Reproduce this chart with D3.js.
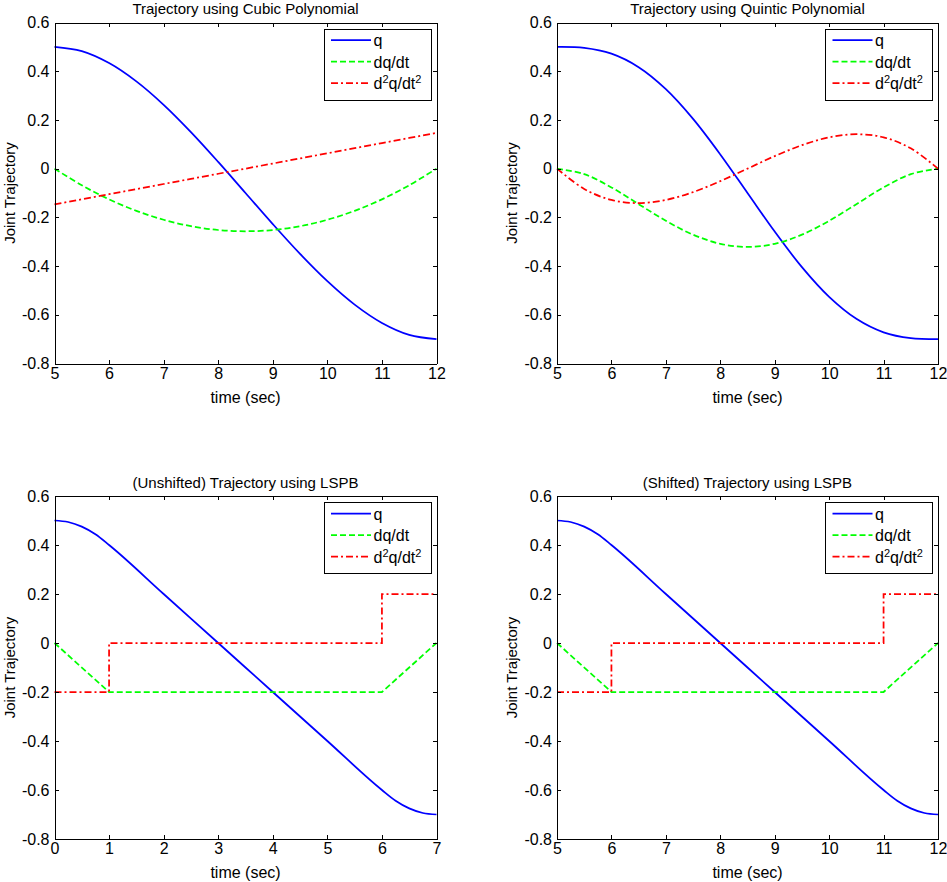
<!DOCTYPE html>
<html>
<head>
<meta charset="utf-8">
<script src="https://cdn.jsdelivr.net/npm/d3@7"></script>
<style>
  html, body { margin: 0; padding: 0; background: #fff; }
  svg { display: block; }
  text { font-family: "Liberation Sans", Arial, Helvetica, sans-serif; fill: #000; }
</style>
</head>
<body>
<svg id="chart" width="947" height="882"></svg>
<script>
// ---------- Data ----------
const cubicTime = [5, 5.5, 6, 6.5, 7, 7.5, 8, 8.5, 9, 9.5, 10, 10.5, 11, 11.5, 12];
const cubicQ   = [0.5, 0.4825, 0.4335, 0.3583, 0.2621, 0.1501, 0.0277, -0.1, -0.2277, -0.3501, -0.4621, -0.5583, -0.6335, -0.6825, -0.7];
const cubicDq  = [0, -0.0682, -0.1260, -0.1732, -0.2099, -0.2362, -0.2519, -0.2571, -0.2519, -0.2362, -0.2099, -0.1732, -0.1260, -0.0682, 0];
const cubicDdq = [-0.1469, -0.1259, -0.1050, -0.0840, -0.0630, -0.0420, -0.0210, 0, 0.0210, 0.0420, 0.0630, 0.0840, 0.1050, 0.1259, 0.1469];

const quinticTime = [5, 5.5, 6, 6.5, 7, 7.5, 8, 8.5, 9, 9.5, 10, 10.5, 11, 11.5, 12];
const quinticQ   = [0.5, 0.4961, 0.4721, 0.4166, 0.3264, 0.2044, 0.0585, -0.1, -0.2585, -0.4044, -0.5264, -0.6166, -0.6721, -0.6961, -0.7];
const quinticDq  = [0, -0.0226, -0.0771, -0.1458, -0.2142, -0.2711, -0.3085, -0.3214, -0.3085, -0.2711, -0.2142, -0.1458, -0.0771, -0.0226, 0];
const quinticDdq = [0, -0.0835, -0.1285, -0.1414, -0.1285, -0.0964, -0.0514, 0, 0.0514, 0.0964, 0.1285, 0.1414, 0.1285, 0.0835, 0];

const lspbTime   = [0, 0.25, 0.5, 0.75, 1, 2, 3, 4, 5, 6, 6.25, 6.5, 6.75, 7];
const lspbQ      = [0.5, 0.4938, 0.475, 0.4438, 0.4, 0.2, 0, -0.2, -0.4, -0.6, -0.6438, -0.675, -0.6938, -0.7];
const lspbDqTime = [0, 1, 6, 7];
const lspbDq     = [0, -0.2, -0.2, 0];
const lspbDdqTime = [0, 1, 1, 6, 6, 7];
const lspbDdq     = [-0.2, -0.2, 0, 0, 0.2, 0.2];

const shiftedTime   = [5, 5.25, 5.5, 5.75, 6, 7, 8, 9, 10, 11, 11.25, 11.5, 11.75, 12];
const shiftedQ      = [0.5, 0.4938, 0.475, 0.4438, 0.4, 0.2, 0, -0.2, -0.4, -0.6, -0.6438, -0.675, -0.6938, -0.7];
const shiftedDqTime = [5, 6, 11, 12];
const shiftedDq     = [0, -0.2, -0.2, 0];
const shiftedDdqTime = [5, 6, 6, 11, 11, 12];
const shiftedDdq     = [-0.2, -0.2, 0, 0, 0.2, 0.2];

const yTicks = [0.6, 0.4, 0.2, 0, -0.2, -0.4, -0.6, -0.8];
const yTickLabels = ["0.6", "0.4", "0.2", "0", "-0.2", "-0.4", "-0.6", "-0.8"];
const xTicksShifted = [5, 6, 7, 8, 9, 10, 11, 12];
const xTicksUnshifted = [0, 1, 2, 3, 4, 5, 6, 7];
const titles = ["Trajectory using Cubic Polynomial", "Trajectory using Quintic Polynomial",
                "(Unshifted) Trajectory using LSPB", "(Shifted) Trajectory using LSPB"];
const legendLabels = ["q", "dq/dt", "d2q/dt2"];
const xLabel = "time (sec)";
const yLabel = "Joint Trajectory";

// ---------- Styles ----------
const styles = [
  { color: "#0000ff", dash: null },
  { color: "#00ff00", dash: "6,3" },
  { color: "#ff0000", dash: "7,3,2,3" }
];

const svg = d3.select("#chart");
const FONT = 16;
const TITLE_FONT = 15;

function panel(cfg) {
  const { left, right, top, bottom } = cfg.box;
  const x = d3.scaleLinear().domain(cfg.xDomain).range([left, right]);
  const y = d3.scaleLinear().domain([-0.8, 0.6]).range([bottom, top]);
  const g = svg.append("g");

  // series
  cfg.series.forEach((s, i) => {
    const pts = s.t.map((t, j) => [t, s.v[j]]);
    const line = d3.line().x(d => x(d[0])).y(d => y(d[1])).curve(s.curve || d3.curveLinear);
    g.append("path").attr("d", line(pts))
      .attr("fill", "none").attr("stroke", styles[i].color)
      .attr("stroke-width", 1.75)
      .attr("stroke-dasharray", styles[i].dash);
  });

  // axes (ticks pointing inward)
  const axB = d3.axisBottom(x).tickValues(cfg.xTicks).tickFormat(d3.format("d")).tickSizeInner(-4).tickSizeOuter(0).tickPadding(4);
  const axT = d3.axisTop(x).tickValues(cfg.xTicks).tickFormat("").tickSizeInner(-4).tickSizeOuter(0);
  const axL = d3.axisLeft(y).tickValues(yTicks).tickFormat((d, i) => yTickLabels[i]).tickSizeInner(-4).tickSizeOuter(0).tickPadding(5);
  const axR = d3.axisRight(y).tickValues(yTicks).tickFormat("").tickSizeInner(-4).tickSizeOuter(0);
  const style = sel => {
    sel.selectAll("path, line").attr("stroke", "#000").attr("stroke-width", 1).attr("shape-rendering", "crispEdges");
    sel.selectAll("text").attr("font-size", FONT).attr("font-family", "Liberation Sans, Arial, sans-serif").attr("fill", "#000");
  };
  g.append("g").attr("transform", `translate(0,${bottom})`).call(axB).call(style);
  g.append("g").attr("transform", `translate(0,${top})`).call(axT).call(style);
  g.append("g").attr("transform", `translate(${left},0)`).call(axL).call(style);
  g.append("g").attr("transform", `translate(${right},0)`).call(axR).call(style);

  // title & labels
  const cx = (left + right) / 2, cy = (top + bottom) / 2;
  g.append("text").attr("x", cx).attr("y", top - 8.5).attr("text-anchor", "middle").attr("font-size", TITLE_FONT).text(cfg.title);
  g.append("text").attr("x", cx).attr("y", bottom + 39).attr("text-anchor", "middle").attr("font-size", FONT).text(xLabel);
  g.append("text").attr("transform", `translate(${left - 40},${cy}) rotate(-90)`).attr("text-anchor", "middle").attr("font-size", 15).text(yLabel);

  // legend
  const lw = 107, lh = 71;
  const lx = right - 6 - lw, ly = top + 6;
  const lg = g.append("g").attr("transform", `translate(${lx},${ly})`);
  lg.append("rect").attr("x", 0.5).attr("y", 0.5).attr("width", lw).attr("height", lh)
    .attr("fill", "#fff").attr("stroke", "#000").attr("stroke-width", 1).attr("shape-rendering", "crispEdges");
  legendLabels.forEach((lab, i) => {
    const ry = 11.5 + i * 21.5;
    lg.append("line").attr("x1", 7.5).attr("x2", 47.5).attr("y1", ry).attr("y2", ry)
      .attr("stroke", styles[i].color).attr("stroke-width", 1.75).attr("stroke-dasharray", styles[i].dash);
    const t = lg.append("text").attr("x", 50).attr("y", ry + 6).attr("font-size", FONT);
    if (i === 2) {
      t.append("tspan").text("d");
      t.append("tspan").attr("font-size", 11).attr("dy", -6).text("2");
      t.append("tspan").attr("dy", 6).text("q/dt");
      t.append("tspan").attr("font-size", 11).attr("dy", -6).text("2");
    } else {
      t.text(lab);
    }
  });
}

const boxTL = { left: 54.5, right: 436.5, top: 22.5, bottom: 363.5 };
const boxTR = { left: 557, right: 938, top: 22.5, bottom: 363.5 };
const boxBL = { left: 54.5, right: 436.5, top: 496, bottom: 839 };
const boxBR = { left: 557, right: 938, top: 496, bottom: 839 };

panel({ box: boxTL, xDomain: [5, 12], xTicks: xTicksShifted, title: titles[0], series: [
  { t: cubicTime, v: cubicQ, curve: d3.curveCatmullRom },
  { t: cubicTime, v: cubicDq, curve: d3.curveCatmullRom },
  { t: cubicTime, v: cubicDdq }
]});
panel({ box: boxTR, xDomain: [5, 12], xTicks: xTicksShifted, title: titles[1], series: [
  { t: quinticTime, v: quinticQ, curve: d3.curveCatmullRom },
  { t: quinticTime, v: quinticDq, curve: d3.curveCatmullRom },
  { t: quinticTime, v: quinticDdq, curve: d3.curveCatmullRom }
]});
panel({ box: boxBL, xDomain: [0, 7], xTicks: xTicksUnshifted, title: titles[2], series: [
  { t: lspbTime, v: lspbQ, curve: d3.curveMonotoneX },
  { t: lspbDqTime, v: lspbDq },
  { t: lspbDdqTime, v: lspbDdq }
]});
panel({ box: boxBR, xDomain: [5, 12], xTicks: xTicksShifted, title: titles[3], series: [
  { t: shiftedTime, v: shiftedQ, curve: d3.curveMonotoneX },
  { t: shiftedDqTime, v: shiftedDq },
  { t: shiftedDdqTime, v: shiftedDdq }
]});
</script>
</body>
</html>
